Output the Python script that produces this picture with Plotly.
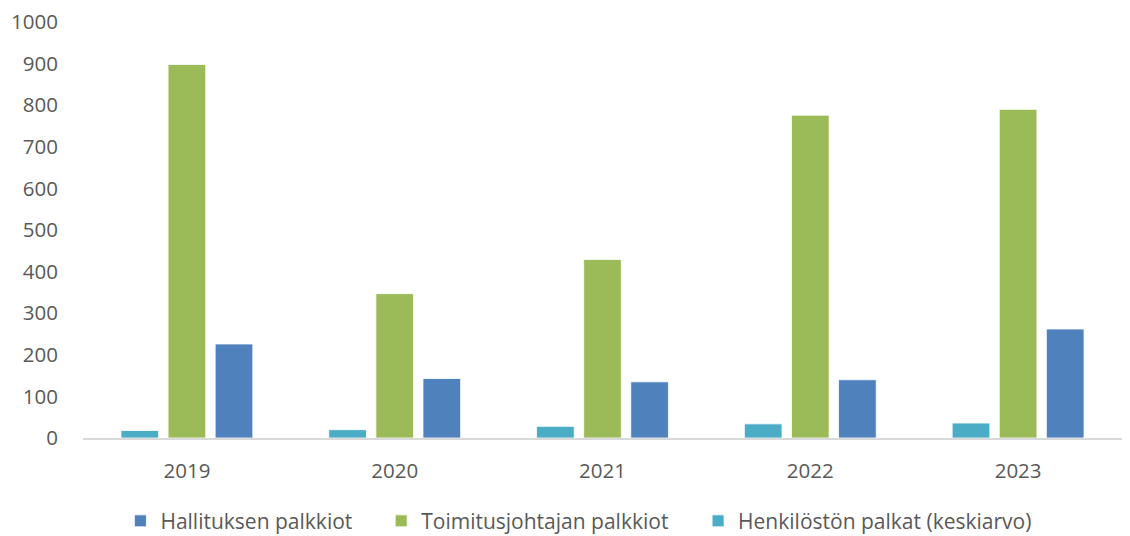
import plotly.graph_objects as go

years = ["2019", "2020", "2021", "2022", "2023"]
henkilosto = [18, 20, 28, 34, 36]
toimitusjohtaja = [898, 347, 429, 776, 790]
hallitus = [226, 143, 135, 140, 262]

series_names = ["Henkilöstön palkat (keskiarvo)", "Toimitusjohtajan palkkiot", "Hallituksen palkkiot"]
colors = ["#4BACC6", "#9BBB59", "#4F81BD"]
legend_ids = ["legend3", "legend2", "legend"]
y_ticks = list(range(0, 1001, 100))

font_family = "Open Sans, Liberation Sans, sans-serif"

fig = go.Figure()
for name, vals, col, lg in zip(series_names, [henkilosto, toimitusjohtaja, hallitus], colors, legend_ids):
    fig.add_trace(go.Bar(
        x=years, y=vals, name=name, legend=lg, showlegend=True,
        marker=dict(color=col, line=dict(color="rgba(255,255,255,0.8)", width=1)),
    ))

leg_common = dict(
    orientation="h", xanchor="left", y=-0.2, yanchor="middle",
    font=dict(size=21, color="#595959", family=font_family),
    itemwidth=30, bgcolor="rgba(0,0,0,0)",
)

fig.update_layout(
    width=1122, height=528, showlegend=True,
    barmode="group", bargap=0.32, bargroupgap=0.2,
    plot_bgcolor="white", paper_bgcolor="white",
    margin=dict(l=75, r=8, t=14, b=98, autoexpand=False),
    font=dict(family=font_family, size=20.5, color="#595959"),
    legend=dict(x=0.036, **leg_common),
    legend2=dict(x=0.287, **leg_common),
    legend3=dict(x=0.592, **leg_common),
    xaxis=dict(
        showline=True, linecolor="#D9D9D9", linewidth=2,
        showgrid=False, ticks="", ticklabelstandoff=13, automargin=False,
    ),
    yaxis=dict(
        range=[0, 1000], tickvals=y_ticks,
        showgrid=False, zeroline=False, showline=False,
        ticks="", ticklabelstandoff=24, automargin=False,
        ticklabeloverflow="allow",
    ),
)

fig.add_shape(type="line", xref="paper", yref="y", x0=1, x1=1.01, y0=0, y1=0,
              line=dict(color="#D9D9D9", width=2))

fig.write_html("out.html")
